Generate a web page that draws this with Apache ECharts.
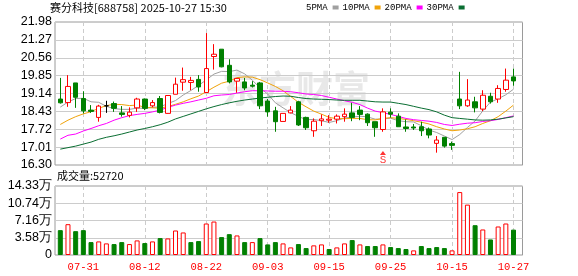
<!DOCTYPE html>
<html><head><meta charset="utf-8">
<script src="https://cdn.jsdelivr.net/npm/echarts@6/dist/echarts.min.js"></script>
<style>html,body{margin:0;padding:0;background:#fff}#c{width:578px;height:276px}</style>
</head><body><div id="c"></div>
<script>
const dates=['07-28','07-29','07-30','07-31','08-01','08-04','08-05','08-06','08-07','08-08','08-11','08-12','08-13','08-14','08-15','08-18','08-19','08-20','08-21','08-22','08-25','08-26','08-27','08-28','08-29','09-01','09-02','09-03','09-04','09-05','09-08','09-09','09-10','09-11','09-12','09-15','09-16','09-17','09-18','09-19','09-22','09-23','09-24','09-25','09-26','09-29','09-30','10-09','10-10','10-13','10-14','10-15','10-16','10-17','10-20','10-21','10-22','10-23','10-24','10-27'];
const openP=[18.92,18.78,19.56,18.94,18.48,18.19,18.65,18.74,18.37,18.27,18.57,18.92,18.65,18.94,18.35,19.11,19.59,19.58,19.70,19.18,20.61,20.90,20.26,19.63,19.60,19.47,19.56,18.84,18.45,18.03,18.37,18.81,18.19,17.66,18.06,18.08,18.12,18.22,18.37,18.48,18.32,18.02,17.71,18.40,18.24,17.81,17.81,17.82,17.73,17.16,17.40,17.15,18.92,18.65,18.81,18.52,19.03,18.92,19.30,19.80];
const closeP=[18.77,19.42,18.99,18.45,18.43,18.64,18.65,18.55,18.31,18.40,18.92,18.55,18.78,18.39,19.06,19.51,19.69,19.66,19.40,20.13,20.70,20.20,19.60,19.74,19.36,19.43,18.65,18.41,18.02,18.35,18.48,17.89,17.78,18.04,18.13,18.12,18.24,18.32,18.19,18.31,17.98,17.78,18.41,18.32,17.82,17.75,17.77,17.66,17.49,17.29,17.05,17.08,18.65,18.88,18.57,19.07,18.81,19.34,19.67,19.64];
const lowP=[18.74,18.61,18.57,18.35,18.37,18.02,18.37,18.41,18.22,18.19,18.41,18.48,18.59,18.35,18.34,19.11,19.25,19.27,19.21,19.18,20.09,20.18,19.54,19.17,19.27,19.38,18.52,18.22,17.62,18.03,18.35,17.85,17.69,17.42,17.85,17.98,17.95,18.02,18.04,18.08,17.85,17.42,17.62,18.18,17.82,17.62,17.69,17.45,17.36,16.79,16.99,16.90,18.52,18.61,18.39,18.44,18.74,18.77,19.21,19.45];
const highP=[19.76,19.87,19.56,19.23,18.68,18.69,18.85,18.82,18.64,18.59,18.97,18.94,18.88,19.04,19.07,19.77,20.17,19.80,19.87,21.54,21.10,20.90,20.50,19.75,19.76,19.63,19.60,18.92,18.61,18.35,18.64,18.85,18.22,18.15,18.31,18.28,18.31,18.55,18.77,18.64,18.35,18.02,18.55,18.55,18.35,18.11,17.93,18.02,17.79,17.45,17.40,17.23,20.00,19.71,19.01,19.27,19.17,19.47,20.13,20.13];
const ma5=[18.60,18.80,18.94,18.95,18.81,18.79,18.63,18.54,18.51,18.51,18.56,18.55,18.59,18.61,18.74,18.86,19.08,19.26,19.46,19.68,19.91,20.02,20.01,20.07,19.92,19.67,19.36,19.12,18.77,18.57,18.38,18.23,18.10,18.11,18.06,17.99,18.06,18.17,18.20,18.24,18.21,18.12,18.13,18.16,18.06,18.02,18.01,17.86,17.69,17.59,17.45,17.31,17.51,17.79,18.05,18.45,18.80,18.93,19.09,19.31];
const ma10=[17.91,18.08,18.22,18.33,18.42,18.55,18.66,18.71,18.70,18.66,18.68,18.59,18.57,18.56,18.62,18.71,18.81,18.93,19.04,19.21,19.39,19.55,19.63,19.77,19.80,19.79,19.69,19.56,19.42,19.25,19.02,18.79,18.61,18.44,18.32,18.19,18.14,18.14,18.15,18.15,18.10,18.09,18.15,18.18,18.15,18.11,18.06,18.00,17.93,17.82,17.73,17.66,17.69,17.74,17.82,17.95,18.06,18.22,18.44,18.68];
const ma20=[17.33,17.48,17.53,17.65,17.75,17.86,17.95,18.08,18.18,18.26,18.31,18.35,18.41,18.48,18.59,18.68,18.75,18.81,18.88,18.95,19.05,19.08,19.10,19.16,19.21,19.25,19.25,19.24,19.23,19.23,19.21,19.17,19.12,19.10,19.06,18.99,18.92,18.85,18.79,18.70,18.56,18.44,18.38,18.31,18.23,18.15,18.10,18.07,18.04,17.99,17.91,17.87,17.92,17.96,17.98,18.03,18.06,18.11,18.18,18.25];
const ma30=[16.93,16.99,17.05,17.13,17.21,17.32,17.40,17.46,17.53,17.61,17.69,17.75,17.82,17.90,18.00,18.13,18.23,18.33,18.43,18.53,18.62,18.70,18.77,18.83,18.88,18.92,18.96,18.99,19.02,19.04,19.03,18.98,18.94,18.92,18.91,18.90,18.88,18.87,18.87,18.87,18.84,18.81,18.80,18.80,18.75,18.70,18.63,18.56,18.50,18.41,18.28,18.18,18.15,18.12,18.09,18.08,18.09,18.12,18.17,18.22];
const volume=[51600,64000,49500,51600,26800,28200,24100,22700,26800,22700,30300,24800,28200,35100,34400,50900,46800,26800,28900,65400,69500,37200,43300,40600,26800,26800,35100,22000,26800,24100,15800,22700,14400,20000,22000,12400,15800,24100,31000,22000,18600,18600,22000,16500,14400,12400,9600,18600,14400,16500,14400,9600,130700,104600,61900,53000,32300,59200,65400,52720];
const priceTicks=[16.30,17.01,17.72,18.43,19.14,19.85,20.56,21.27,21.98];
const volTicks=[0,35825,71650,107475,143300];
const dateTicks=[3,11,19,27,35,43,51,59];
const signals=[{index:42,price:16.78,label:'S'}];
const maNames=['5PMA','10PMA','20PMA','30PMA'];
const maColors=['#a0a0a0','#f0a30a','#ff00ff','#0a6e32'];
const stockTitle='赛分科技[688758] 2025-10-27 15:30';
const volTitle='成交量:52720';

const chart=echarts.init(document.getElementById('c'),null,{renderer:'canvas'});
const X_MIN=-0.69, X_MAX=60.17;
const gridLine='#cccccc';
function xAxisCfg(gi,labels){
  return {type:'value',gridIndex:gi,min:X_MIN,max:X_MAX,
    axisLine:{show:false},
    axisTick:{show:false,customValues:dateTicks},
    axisLabel:{show:labels,customValues:dateTicks,formatter:v=>dates[Math.round(v)]||'',color:'#ff0000',fontSize:10.5,fontFamily:'Liberation Mono',margin:7},
    splitLine:{show:true,lineStyle:{color:gridLine,type:[4,3],width:1}}};
}
const maSeries=[ma5,ma10,ma20,ma30].map((arr,k)=>({
  name:maNames[k],type:'line',xAxisIndex:0,yAxisIndex:0,showSymbol:false,symbol:'none',
  color:maColors[k],lineStyle:{width:1,color:maColors[k]},silent:true,animation:false,z:3,
  data:arr.map((v,i)=>[i,v])
}));
const candleData=dates.map((d,i)=>[i,openP[i],closeP[i],lowP[i],highP[i]]);
const volData=volume.map((v,i)=>{
  const up = i===0 ? closeP[0]>=openP[0] : closeP[i]>=closeP[i-1];
  return {value:[i,v],itemStyle: up?{color:'#ffffff',borderColor:'#ff0000',borderWidth:1}:{color:'#008000',borderColor:'#008000',borderWidth:1}};
});
chart.setOption({
  animation:false,
  backgroundColor:'#ffffff',
  textStyle:{fontFamily:'Liberation Sans'},
  grid:[
    {left:55,right:55.5,top:22,height:143,show:true,borderColor:'#9a9a9a',borderWidth:1,backgroundColor:'transparent'},
    {left:55,right:55.5,top:186,height:69,show:true,borderColor:'#9a9a9a',borderWidth:1,backgroundColor:'transparent'}
  ],
  legend:{data:maNames,left:306,top:3,padding:0,icon:'rect',itemWidth:6,itemHeight:4,align:'right',itemGap:4,selectedMode:false,
    textStyle:{fontSize:9,fontFamily:'Liberation Mono',color:'#000'}},
  graphic:[
    {type:'text',left:222,top:70,z:-1,silent:true,style:{text:'东方财富',font:'bold 37px "Noto Sans CJK SC"',fill:'#e8e8e8'}},
    {type:'text',left:50,top:2,style:{text:stockTitle,font:'11px "Noto Sans CJK SC"',fill:'#000'}},
    {type:'text',left:57,top:170,style:{text:volTitle,font:'11px "Noto Sans CJK SC"',fill:'#000'}}
  ],
  xAxis:[xAxisCfg(0,false),xAxisCfg(1,true)],
  yAxis:[
    {type:'value',gridIndex:0,min:16.30,max:21.98,interval:0.71,
     axisLine:{show:false},axisTick:{show:false,customValues:priceTicks},
     axisLabel:{customValues:priceTicks,formatter:v=>v.toFixed(2),color:'#000',fontSize:12.5,fontFamily:'Liberation Sans',margin:3},
     splitLine:{lineStyle:{color:gridLine,width:1}}},
    {type:'value',gridIndex:1,min:0,max:143300,interval:35825,
     axisLine:{show:false},axisTick:{show:false,customValues:volTicks},
     axisLabel:{customValues:volTicks,formatter:v=>v===0?'0':(Math.floor(v/100)/100).toFixed(2)+'万',color:'#000',fontSize:12.5,fontFamily:'Liberation Sans',margin:3},
     splitLine:{lineStyle:{color:gridLine,width:1}}}
  ],
  series:[
    {type:'candlestick',name:'K',xAxisIndex:0,yAxisIndex:0,barWidth:5,z:4,
     encode:{x:0,y:[1,2,3,4]},
     itemStyle:{color:'#ffffff',color0:'#008000',borderColor:'#ff0000',borderColor0:'#008000',borderColorDoji:'#000000',borderWidth:1},
     data:candleData},
    ...maSeries,
    {type:'bar',name:'VOL',xAxisIndex:1,yAxisIndex:1,barWidth:5,data:volData},
    {type:'scatter',name:'signal',xAxisIndex:0,yAxisIndex:0,symbol:'triangle',symbolSize:[6,4],z:5,
     itemStyle:{color:'#ff0000'},
     label:{show:true,position:'bottom',distance:0,formatter:p=>p.data.label,color:'#ff0000',fontSize:11,fontFamily:'Liberation Mono'},
     data:signals.map(s=>({value:[s.index,s.price],label:s.label}))}
  ]
});
</script></body></html>
